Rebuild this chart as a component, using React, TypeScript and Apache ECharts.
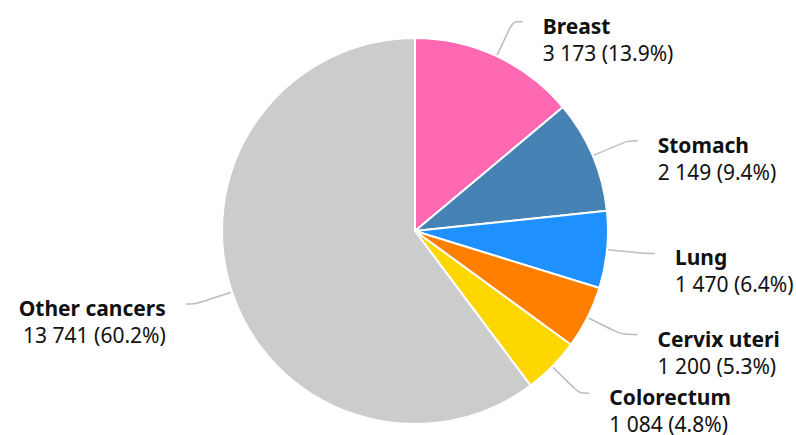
import React, { useEffect, useRef } from "react";
import * as echarts from "echarts";

const categories = ["Breast", "Stomach", "Lung", "Cervix uteri", "Colorectum", "Other cancers"];
const values = [3173, 2149, 1470, 1200, 1084, 13741];
const colors = ["#FF69B4", "#4682B4", "#1E90FF", "#FF7F00", "#FFD700", "#CCCCCC"];

const fmt = (n: number) => String(n).replace(/\B(?=(\d{3})+(?!\d))/g, " ");

export default function App() {
  const ref = useRef<HTMLDivElement>(null);
  useEffect(() => {
    if (!ref.current) return;
    const chart = echarts.init(ref.current, null, { renderer: "svg" });
    const total = values.reduce((a, b) => a + b, 0);
    chart.setOption({
      animation: false,
      textStyle: { fontFamily: "Noto Sans" },
      series: [
        {
          type: "pie",
          center: [415, 231],
          radius: 193,
          startAngle: 90,
          clockwise: true,
          avoidLabelOverlap: false,
          data: categories.map((c, i) => ({
            name: c,
            value: values[i],
            itemStyle: { color: colors[i] },
            ...(c === "Cervix uteri" ? { labelLine: { length2: 16 } } : {}),
          })),
          itemStyle: { borderColor: "#ffffff", borderWidth: 2 },
          label: {
            show: true,
            position: "outside",
            distanceToLabelLine: 20,
            padding: [35, 0, 0, 0],
            formatter: (p: any) =>
              `{name|${p.name}}\n{value|${fmt(p.value)} (${((p.value / total) * 100).toFixed(1)}%)}`,
            rich: {
              name: { fontFamily: "Noto Sans", fontSize: 21, fontWeight: "bold", color: "#111", lineHeight: 27 },
              value: { fontFamily: "Noto Sans", fontSize: 21, color: "#111", lineHeight: 27 },
            },
          },
          labelLine: {
            show: true,
            length: 38,
            length2: 10,
            smooth: 0.3,
            lineStyle: { color: "#bdbdbd", width: 1.5 },
          },
          emphasis: { disabled: true },
        },
      ],
    });
    return () => chart.dispose();
  }, []);
  return (
    <div
      ref={ref}
      style={{ position: "fixed", left: 0, top: 0, width: 796, height: 435, background: "#fff" }}
    />
  );
}
